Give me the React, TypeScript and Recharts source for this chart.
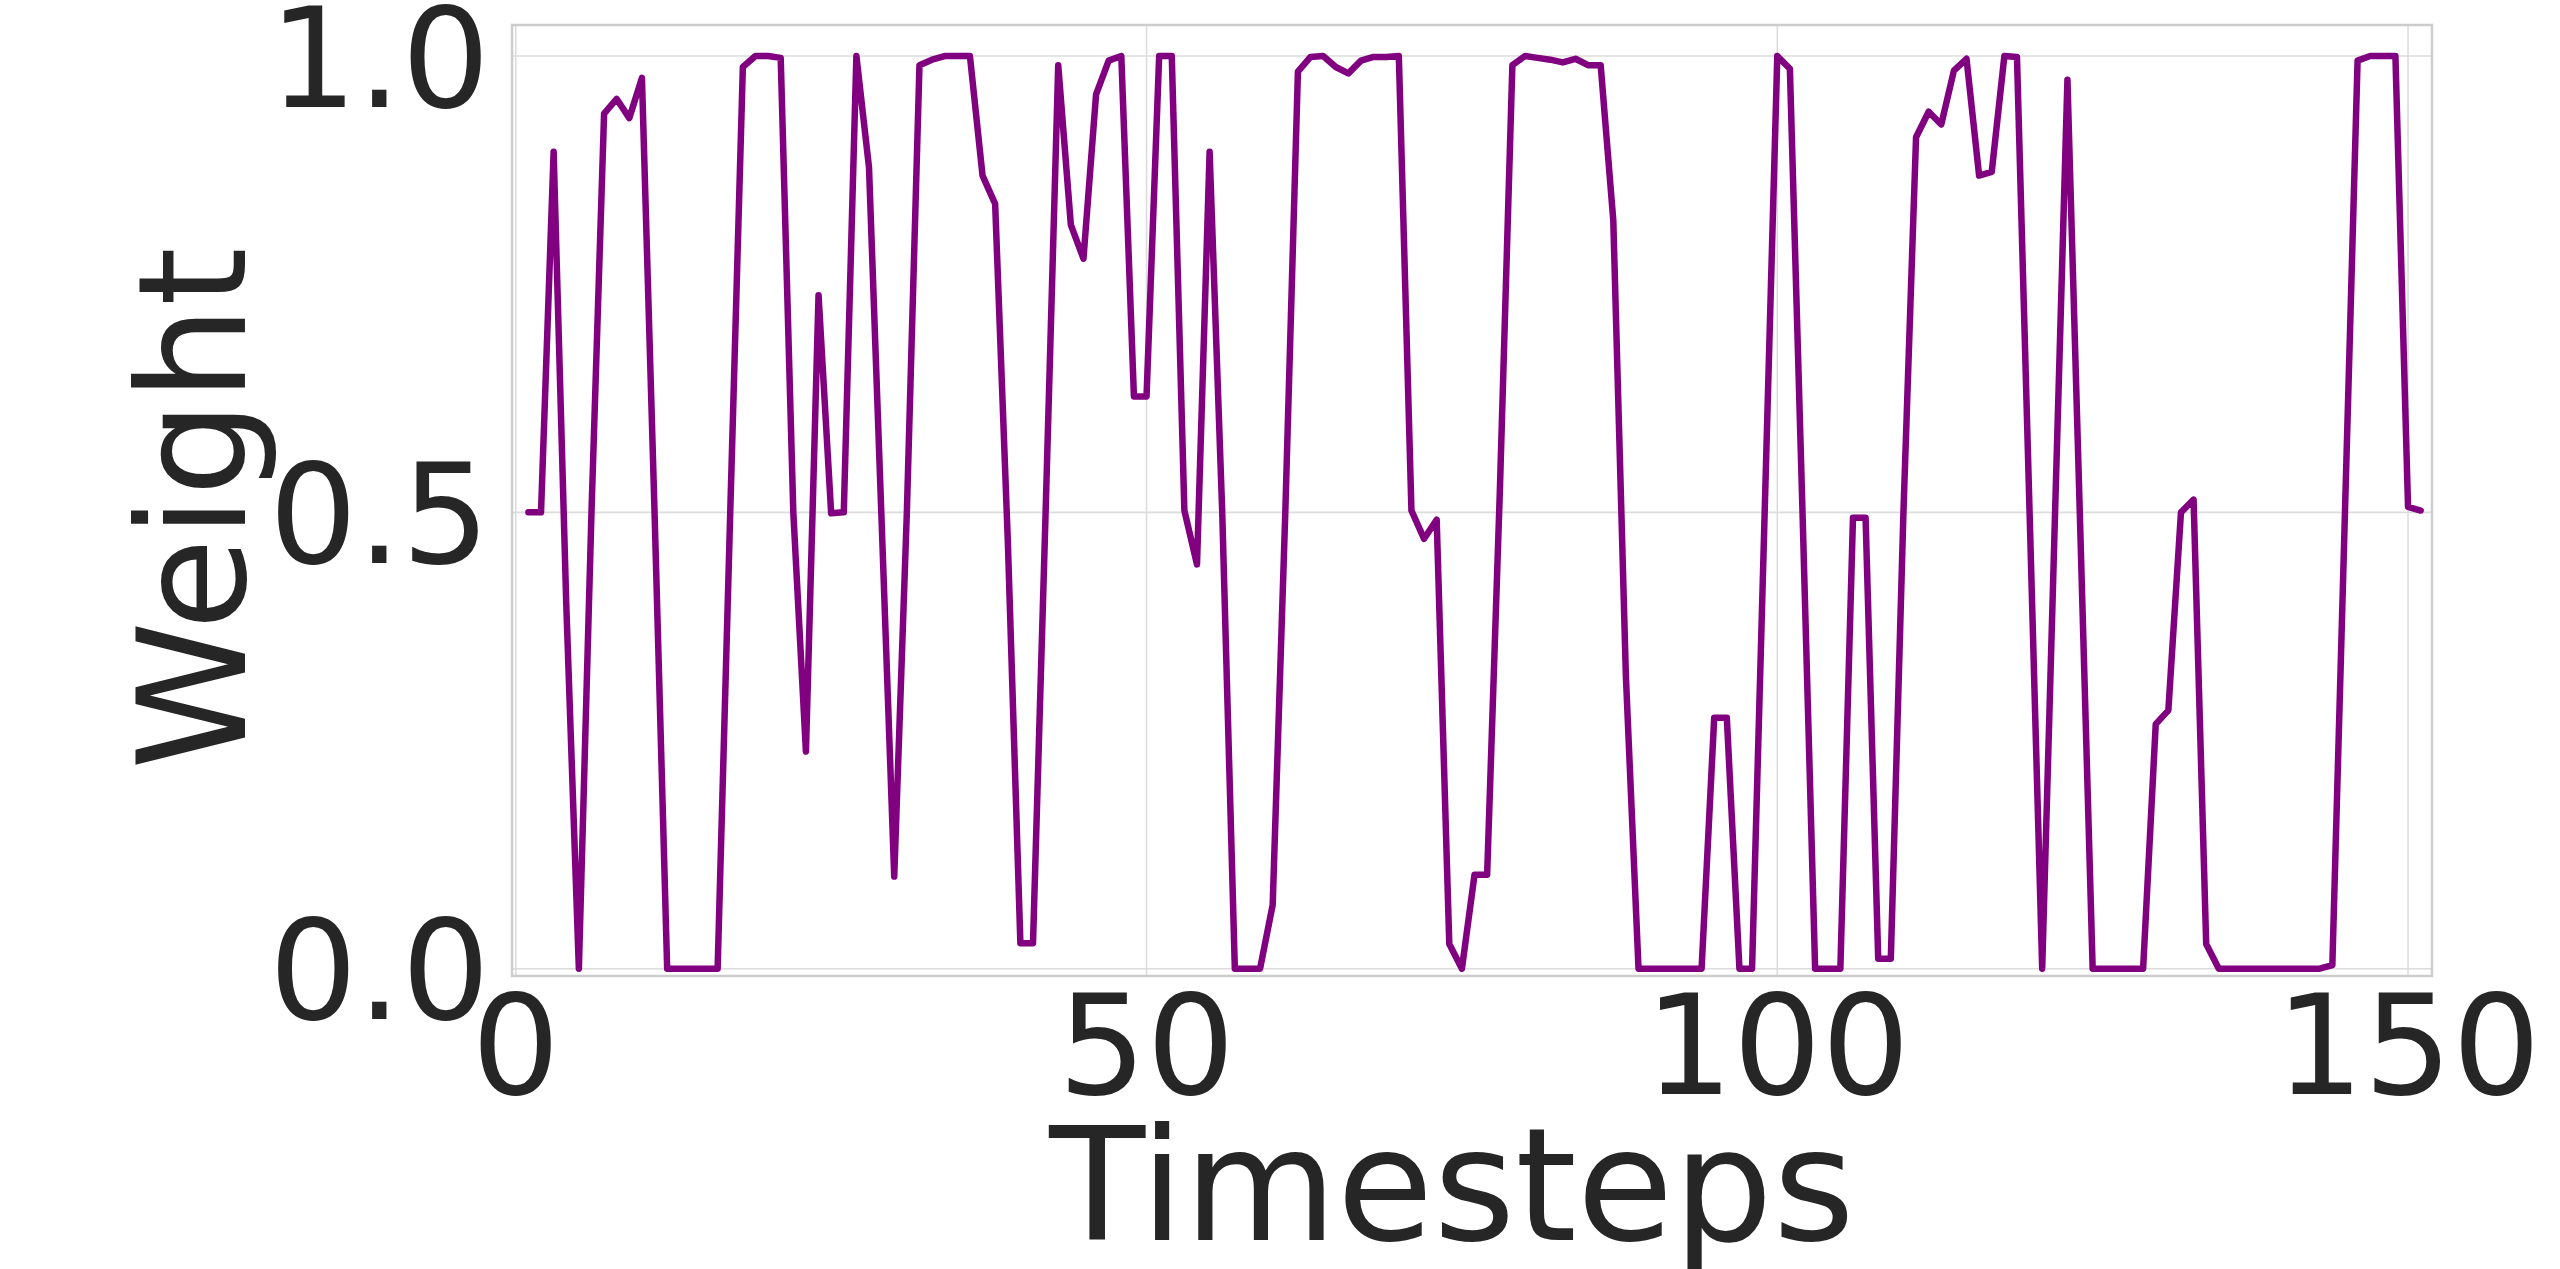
import {
  CartesianGrid,
  Label,
  Line,
  LineChart,
  ReferenceArea,
  XAxis,
  YAxis,
} from "recharts";

const LINE_COLOR = "#800080";
const TEXT_COLOR = "#262626";
const FONT = "'DejaVu Sans', sans-serif";

const X_MIN = -0.3;
const X_MAX = 151.9;
const Y_MIN = -0.008;
const Y_MAX = 1.034;

const X_TICKS = [0, 50, 100, 150];
const Y_TICKS = [0, 0.5, 1];

// weight per timestep, t = 1..151
const WEIGHTS = [
  0.5, 0.5, 0.895, 0.4, 0.0, 0.5, 0.937, 0.953, 0.932, 0.976,
  0.5, 0, 0, 0, 0, 0, 0.5, 0.988, 1.0, 1.0,
  0.998, 0.5, 0.238, 0.738, 0.499, 0.5, 1.0, 0.878, 0.49, 0.101,
  0.5, 0.99, 0.996, 1.0, 1.0, 1.0, 0.869, 0.838, 0.47, 0.028,
  0.028, 0.5, 0.99, 0.815, 0.778, 0.958, 0.995, 1.0, 0.627, 0.627,
  1.0, 1.0, 0.502, 0.443, 0.895, 0.5, 0, 0, 0, 0.07,
  0.5, 0.983, 0.999, 1.0, 0.988, 0.981, 0.995, 0.999, 0.999, 1.0,
  0.502, 0.471, 0.492, 0.027, 0, 0.103, 0.103, 0.52, 0.99, 1.0,
  0.998, 0.996, 0.993, 0.997, 0.99, 0.99, 0.82, 0.32, 0, 0,
  0, 0, 0, 0, 0.275, 0.275, 0, 0, 0.5, 1.0,
  0.986, 0.5, 0, 0, 0, 0.494, 0.494, 0.011, 0.011, 0.5,
  0.911, 0.939, 0.925, 0.984, 0.997, 0.869, 0.873, 1.0, 0.999, 0.5,
  0, 0.49, 0.974, 0.49, 0, 0, 0, 0, 0, 0.268,
  0.283, 0.5, 0.514, 0.027, 0, 0, 0, 0, 0, 0,
  0, 0, 0, 0.004, 0.5, 0.995, 1.0, 1.0, 1.0, 0.506,
  0.502,
];

const TIMESTEPS = WEIGHTS.map((_, i) => i + 1);

const data = TIMESTEPS.map((t, i) => ({ t, weight: WEIGHTS[i] }));

const WIDTH = 2560;
const HEIGHT = 1269;
const PLOT_LEFT = 512;
const PLOT_TOP = 25;
const PLOT_RIGHT = 2432;
const PLOT_BOTTOM = 976;
const TICK_SIZE = 139;

type TickProps = {
  x?: number;
  y?: number;
  payload?: { value: number };
};

function XTick({ x, y, payload }: TickProps) {
  return (
    <text
      x={x}
      y={y}
      dy="0.73em"
      textAnchor="middle"
      fontSize={TICK_SIZE}
      fill={TEXT_COLOR}
      fontFamily={FONT}
    >
      {payload?.value}
    </text>
  );
}

function YTick({ x, y, payload }: TickProps) {
  return (
    <text
      x={x}
      y={y}
      dy="0.365em"
      textAnchor="end"
      fontSize={TICK_SIZE}
      fill={TEXT_COLOR}
      fontFamily={FONT}
    >
      {(payload?.value ?? 0).toFixed(1)}
    </text>
  );
}

export default function App() {
  const midY = (PLOT_TOP + PLOT_BOTTOM) / 2 + 8;
  return (
    <div style={{ position: "absolute", left: 0, top: 0, background: "#fff" }}>
      <LineChart
        width={WIDTH}
        height={HEIGHT}
        data={data}
        margin={{ top: PLOT_TOP, right: WIDTH - PLOT_RIGHT, bottom: 0, left: 0 }}
        style={{ fontFamily: FONT }}
      >
        <CartesianGrid stroke="#dcdcdc" strokeWidth={1.6} />
        <XAxis
          dataKey="t"
          type="number"
          domain={[X_MIN, X_MAX]}
          ticks={X_TICKS}
          allowDataOverflow
          height={HEIGHT - PLOT_BOTTOM}
          tick={<XTick />}
          tickLine={false}
          axisLine={false}
          tickSize={0}
          tickMargin={17}
        >
          <Label
            content={() => (
              <text
                x={1452}
                y={1240}
                textAnchor="middle"
                fontSize={157}
                fill={TEXT_COLOR}
                fontFamily={FONT}
              >
                Timesteps
              </text>
            )}
          />
        </XAxis>
        <YAxis
          type="number"
          domain={[Y_MIN, Y_MAX]}
          ticks={Y_TICKS}
          allowDataOverflow
          width={PLOT_LEFT}
          tick={<YTick />}
          tickLine={false}
          axisLine={false}
          tickSize={0}
          tickMargin={22}
        >
          <Label
            content={() => (
              <text
                x={245}
                y={midY}
                transform={`rotate(-90 245 ${midY})`}
                textAnchor="middle"
                fontSize={150}
                fill={TEXT_COLOR}
                fontFamily={FONT}
              >
                Weight
              </text>
            )}
          />
        </YAxis>
        <ReferenceArea
          x1={X_MIN}
          x2={X_MAX}
          y1={Y_MIN}
          y2={Y_MAX}
          fill="none"
          stroke="#cccccc"
          strokeWidth={2.5}
          ifOverflow="visible"
        />
        <Line
          type="linear"
          dataKey="weight"
          stroke={LINE_COLOR}
          strokeWidth={6.5}
          strokeLinejoin="round"
          strokeLinecap="round"
          dot={false}
          activeDot={false}
          isAnimationActive={false}
        />
      </LineChart>
    </div>
  );
}
